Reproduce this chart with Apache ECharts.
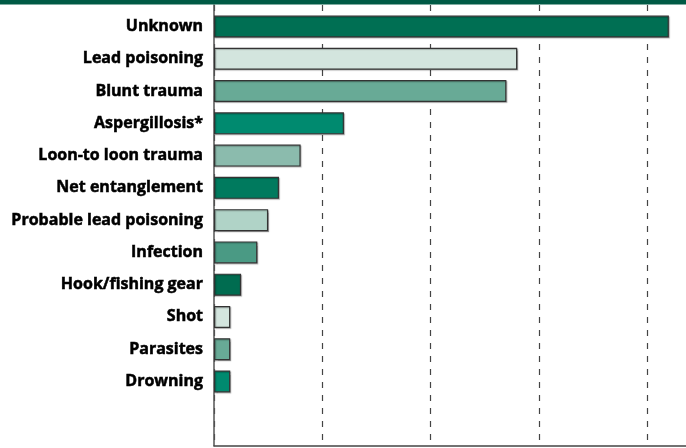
<!DOCTYPE html>
<html>
<head>
<meta charset="utf-8">
<script src="https://cdn.jsdelivr.net/npm/echarts@6/dist/echarts.min.js"></script>
<style>
html,body{margin:0;padding:0;background:#fff;}
#chart{width:686px;height:448px;}
</style>
</head>
<body>
<div id="chart"></div>
<script>
var categories = ["Unknown","Lead poisoning","Blunt trauma","Aspergillosis*","Loon-to loon trauma","Net entanglement","Probable lead poisoning","Infection","Hook/fishing gear","Shot","Parasites","Drowning"];
var values = [84, 56, 54, 24, 16, 12, 10, 8, 5, 3, 3, 3];
var xTicks = [0, 20, 40, 60, 80, 100];
var barColors = ["#006f53","#d3e5de","#68aa96","#008a6f","#8bbbad","#007a5e","#b0d3c7","#4a9a84","#006c50","#d3e5de","#68aa96","#008a6f"];

var chart = echarts.init(document.getElementById('chart'), null, {renderer:'canvas'});
var xMin = xTicks[0], xMax = xTicks[xTicks.length-1], xInt = xTicks[1]-xTicks[0];
var gridLeft = 214, gridRight = -69.5;
chart.setOption({
  animation:false,
  backgroundColor:'#ffffff',
  graphic:[{type:'rect', left:0, top:0, shape:{width:686, height:4.5}, style:{fill:'#005a45'}, z:100}],
  grid:[
    {left:gridLeft, right:gridRight, top:10.4, height:387.2, containLabel:false, outerBoundsMode:'none'},
    {left:gridLeft, right:gridRight, top:5, bottom:2.3, containLabel:false, outerBoundsMode:'none'}
  ],
  xAxis:[
    {type:'value', gridIndex:0, min:xMin, max:xMax, interval:xInt, show:false},
    {type:'value', gridIndex:1, min:xMin, max:xMax, interval:xInt,
     axisLine:{show:true, lineStyle:{color:'#444', width:1.5}},
     axisTick:{show:false}, axisLabel:{show:false},
     splitLine:{show:true, lineStyle:{color:'#444', width:1.2, type:[6,7]}}}
  ],
  yAxis:[
    {type:'category', gridIndex:0, inverse:true, data:categories,
     axisLine:{show:false}, axisTick:{show:false}, splitLine:{show:false},
     axisLabel:{margin:11, color:'#000', fontFamily:'Open Sans', fontWeight:'bold', fontSize:16,
                textBorderColor:'#000', textBorderWidth:0.5}},
    {type:'value', gridIndex:1, min:0, max:1,
     axisLine:{show:true, lineStyle:{color:'#555', width:1.5}},
     axisTick:{show:false}, axisLabel:{show:false}, splitLine:{show:false}}
  ],
  series:[{
    type:'bar', xAxisIndex:0, yAxisIndex:0,
    barWidth:22,
    data: values.map(function(v,i){ return {value:v, itemStyle:{color:barColors[i]}}; }),
    itemStyle:{borderColor:'#333', borderWidth:1.2, shadowColor:'rgba(0,0,0,0.25)', shadowOffsetX:1, shadowOffsetY:1, shadowBlur:1},
    z:3
  }]
});
</script>
</body>
</html>
